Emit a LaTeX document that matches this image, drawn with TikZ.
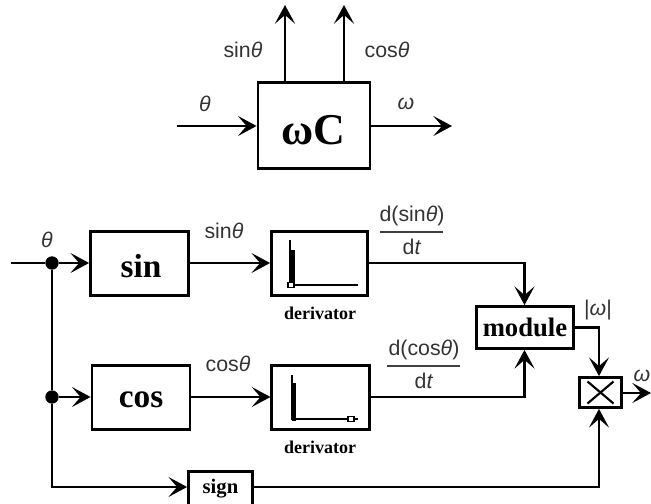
\documentclass[tikz,border=0pt]{standalone}
\usepackage{fontspec}
\setmainfont{Liberation Sans}
\newfontfamily\serifb[BoldFont={Liberation Serif Bold}]{Liberation Serif}
\usetikzlibrary{arrows.meta,calc}
\tikzset{
  wire/.style={line width=2.1pt,line cap=butt},
  arr/.style={wire,-{Stealth[length=14pt,width=15pt,inset=6.5pt,fill=black]}},
  blk/.style={draw,line width=2.1pt,inner sep=0pt,anchor=center},
  big/.style={font=\serifb\bfseries\fontsize{25}{25}\selectfont},
  lbl/.style={inner sep=0pt,text=black!80,font=\fontsize{16}{17}\selectfont},
  dot/.style={circle,fill=black,inner sep=0pt,minimum size=10pt},
  small/.style={inner sep=0pt,font=\serifb\bfseries\fontsize{13.5}{14}\selectfont},
  fracbar/.style={line width=0.8pt,black!75},
  gbar/.style={line width=3.4pt},
  gline/.style={line width=1.6pt},
  mark box/.style={draw,line width=0.8pt,fill=white,inner sep=0pt,minimum width=4.5pt,minimum height=3.6pt}
}
\begin{document}
\begin{tikzpicture}[x=0.75pt,y=-0.75pt]
\useasboundingbox (0,0) rectangle (651,504);
% top block
\node[blk,minimum width=84pt,minimum height=64.5pt] (wc) at (314,125.5) {};
\node[big,inner sep=0pt,font=\serifb\bfseries\fontsize{33}{33}\selectfont] (wct) at (313,130) {ωC};
\coordinate (tin) at (177,126);
\coordinate (tout) at (452,126);
\coordinate (ts) at (285,5);
\coordinate (tc) at (344,5);
\draw[arr] (tin) -- (wc.west |- tin);
\draw[arr] (wc.east |- tout) -- (tout);
\draw[arr] (ts |- wc.north) -- (ts);
\draw[arr] (tc |- wc.north) -- (tc);
\node[lbl] (l1) at (243,50) {sin\textit{θ}};
\node[lbl] (l2) at (387,50) {cos\textit{θ}};
\node[lbl] (l3) at (205,104) {\textit{θ}};
\node[lbl] (l4) at (406,104) {\textit{ω}};
% bottom blocks
\node[blk,minimum width=73.5pt,minimum height=48pt] (sinb) at (139.5,263.5) {};
\node[big,inner sep=0pt] (sint) at (141,266) {sin};
\node[blk,minimum width=73.5pt,minimum height=48pt] (cosb) at (141,397.5) {};
\node[big,inner sep=0pt] (cost) at (141,400) {cos};
\node[blk,minimum width=72pt,minimum height=48pt] (d1) at (319.5,263.5) {};
\node[blk,minimum width=73pt,minimum height=48pt] (d2) at (320.5,397.5) {};
\node[small] (d1t) at (320,313) {derivator};
\node[small] (d2t) at (320,447) {derivator};
\node[blk,minimum width=72.5pt,minimum height=31.5pt,font=\serifb\bfseries\fontsize{20}{20}\selectfont] (mod) at (525,327.5) {module};
\node[blk,minimum width=31pt,minimum height=22.5pt] (mul) at (600.5,392.5) {};
\node[blk,minimum width=48pt,minimum height=26pt,font=\serifb\bfseries\fontsize{15.5}{16}\selectfont] (sgn) at (220.5,489) {sign};
\draw[line width=1.6pt] (mul.center)+(-13,-11) -- +(13,11) (mul.center)+(-13,11) -- +(13,-11);
% derivator glyphs
\draw[gbar] (293,250) -- (293,285);
\draw[gline] (290,240) -- (290,285) -- (358,285);
\node[mark box] (m1) at (291,285) {};
\draw[gbar] (294,383) -- (294,421);
\draw[gline] (292,375) -- (292,419) -- (358,419);
\node[mark box] (m2) at (351,419) {};
% wires
\coordinate (in) at (11,263);
\node[dot] (j1) at (52,263) {};
\node[dot] (j2) at (52,397) {};
\coordinate (jc) at (52,487);
\coordinate (tom) at (524.5,263);
\coordinate (toc) at (524.5,397);
\coordinate (xb) at (599,487);
\coordinate (mo) at (599,327);
\coordinate (xo) at (651,393);
\draw[wire] (in) -- (j1);
\draw[wire] (j1) -- (j2);
\draw[arr] (j1) -- (sinb.west |- j1);
\draw[arr] (j2) -- (cosb.west |- j2);
\draw[arr] (j2) -- (jc) -- (sgn.west |- jc);
\draw[arr] (sinb.east |- in) -- (d1.west |- in);
\draw[arr] (cosb.east |- j2) -- (d2.west |- j2);
\draw[arr] (d1.east |- tom) -- (tom) -- (tom |- mod.north);
\draw[arr] (d2.east |- toc) -- (toc) -- (toc |- mod.south);
\draw[arr] (mod.east) -- (mo |- mod.east) -- (mo |- mul.north);
\draw[arr] (sgn.east |- jc) -- (xb) -- (xb |- mul.south);
\draw[arr] (mul.east |- xo) -- (xo);
% labels
\node[lbl] (l5) at (47,240) {\textit{θ}};
\node[lbl] (l6) at (224,231) {sin\textit{θ}};
\node[lbl] (l7) at (228,364) {cos\textit{θ}};
\node[lbl] (n1) at (412,216) {d(sin\textit{θ})};
\node[lbl] (e1) at (412,247) {d\textit{t}};
\draw[fracbar] (380,232) -- (443,232);
\node[lbl] (n2) at (424,350) {d(cos\textit{θ})};
\node[lbl] (e2) at (424,381) {d\textit{t}};
\draw[fracbar] (387,366) -- (460,366);
\node[lbl] (l8) at (598,310) {|\textit{ω}|};
\node[lbl] (l9) at (642,376) {\textit{ω}};
\end{tikzpicture}
\end{document}
